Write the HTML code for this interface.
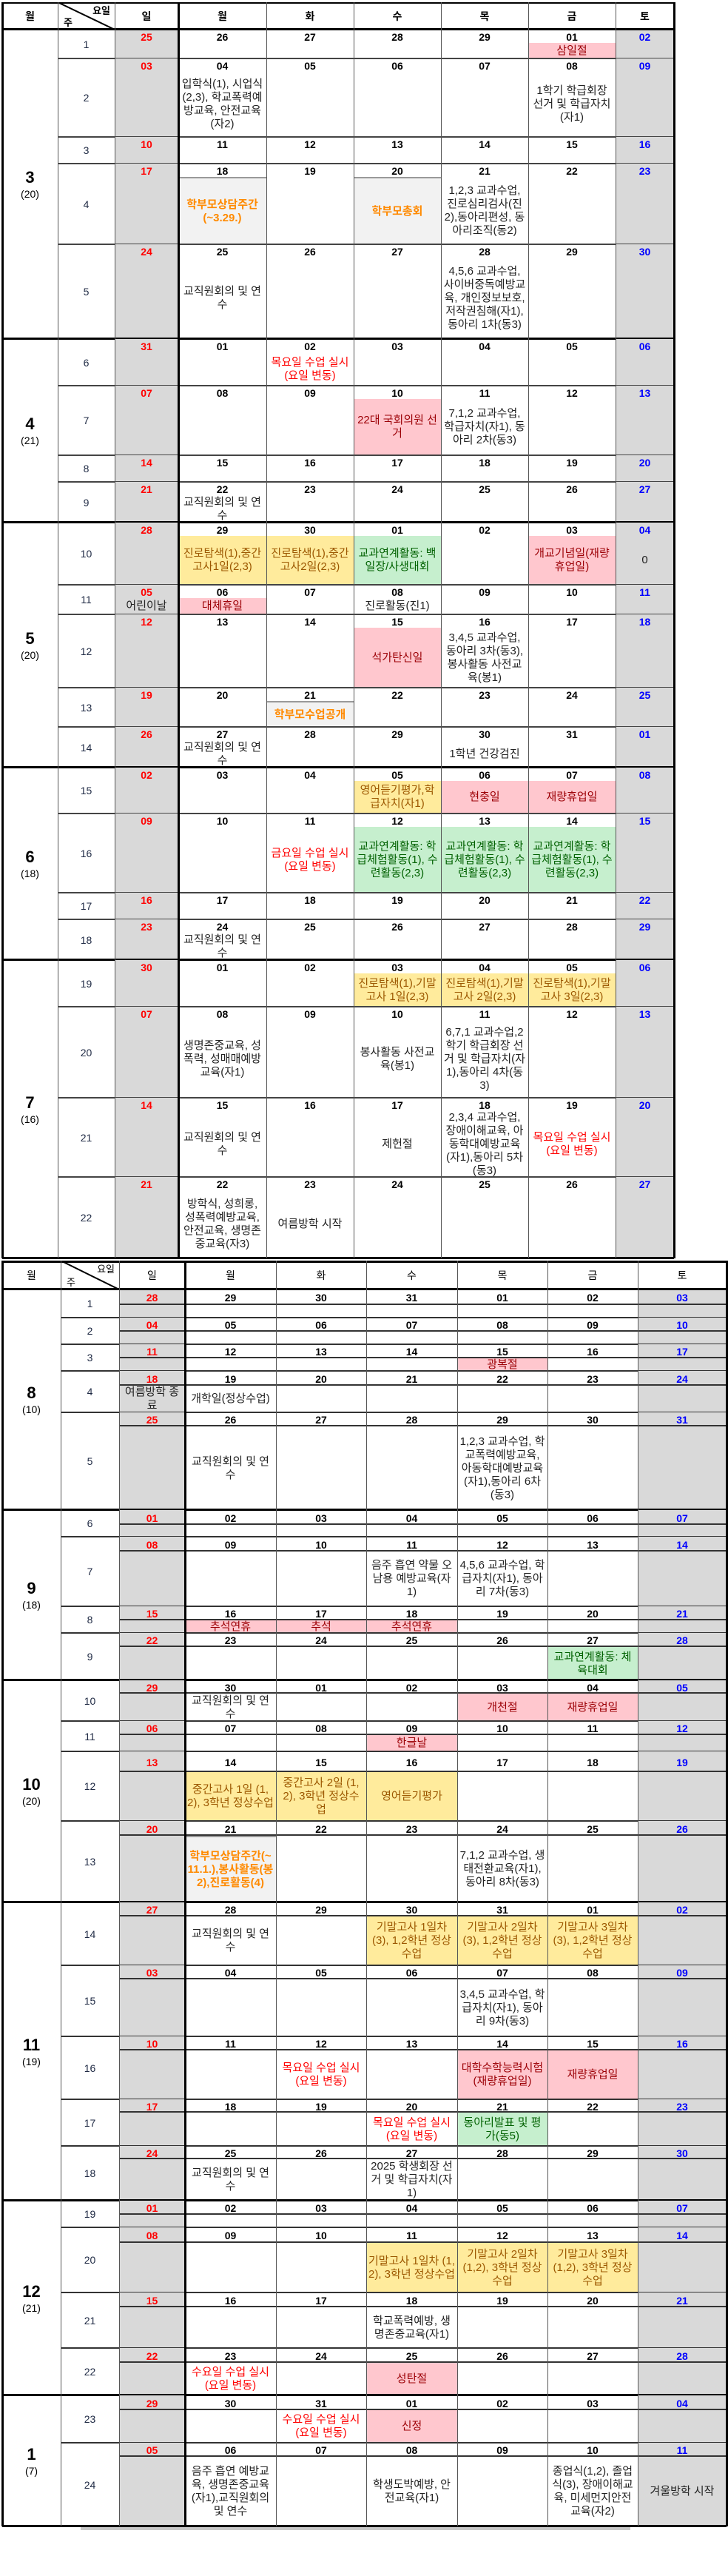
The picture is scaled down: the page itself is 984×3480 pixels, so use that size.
<!DOCTYPE html>
<html><head><meta charset="utf-8">
<style>
html,body{margin:0;padding:0;background:#fff;}
body{width:984px;height:3480px;position:relative;overflow:hidden;font-family:"Liberation Sans","Noto Sans CJK KR","NanumGothic",sans-serif;}
.a{position:absolute;box-sizing:border-box;}
.c{display:flex;align-items:center;justify-content:center;text-align:center;}
.d{font-weight:bold;font-size:14px;color:#000;}
.ev{font-size:15px;line-height:18px;word-break:break-all;padding:0 3px;color:#222;}
</style></head>
<body>
<div id="root"></div>
<script>
// ---------- data ----------
const t1Cols = [3,78,155,241,360,478,596,714,832,911];
const t2Cols = [3,82,161,250,373,495,618,740,862,982];
// table 1 rows: [week, top, bottom, dates, events]
const t1Weeks = [
 [1,40,79,['25','26','27','28','29','01','02'],{5:['삼일절','p']}],
 [2,79,185,['03','04','05','06','07','08','09'],{1:['입학식(1), 시업식(2,3), 학교폭력예방교육, 안전교육(자2)',''],5:['1학기 학급회장 선거 및 학급자치(자1)','']}],
 [3,185,221,['10','11','12','13','14','15','16'],{}],
 [4,221,330,['17','18','19','20','21','22','23'],{1:['학부모상담주간<br>(~3.29.)','o'],3:['학부모총회','o'],4:['1,2,3 교과수업, 진로심리검사(진2),동아리편성, 동아리조직(동2)','']}],
 [5,330,458,['24','25','26','27','28','29','30'],{1:['교직원회의 및 연수',''],4:['4,5,6 교과수업, 사이버중독예방교육, 개인정보보호, 저작권침해(자1),동아리 1차(동3)','']}],
 [6,458,521,['31','01','02','03','04','05','06'],{2:['목요일 수업 실시(요일 변동)','r']}],
 [7,521,615,['07','08','09','10','11','12','13'],{3:['22대 국회의원 선거','p'],4:['7,1,2 교과수업, 학급자치(자1), 동아리 2차(동3)','']}],
 [8,615,651,['14','15','16','17','18','19','20'],{}],
 [9,651,706,['21','22','23','24','25','26','27'],{1:['교직원회의 및 연수','']}],
 [10,706,790,['28','29','30','01','02','03','04'],{1:['진로탐색(1),중간고사1일(2,3)','y'],2:['진로탐색(1),중간고사2일(2,3)','y'],3:['교과연계활동: 백일장/사생대회','g'],5:['개교기념일(재량휴업일)','p'],6:['0','']}],
 [11,790,830,['05','06','07','08','09','10','11'],{0:['어린이날',''],1:['대체휴일','p'],3:['진로활동(진1)','']}],
 [12,830,929,['12','13','14','15','16','17','18'],{3:['석가탄신일','p'],4:['3,4,5 교과수업, 동아리 3차(동3), 봉사활동 사전교육(봉1)','']}],
 [13,929,982,['19','20','21','22','23','24','25'],{2:['학부모수업공개','o']}],
 [14,982,1037,['26','27','28','29','30','31','01'],{1:['교직원회의 및 연수',''],4:['1학년 건강검진','']}],
 [15,1037,1099,['02','03','04','05','06','07','08'],{3:['영어듣기평가,학급자치(자1)','y'],4:['현충일','p'],5:['재량휴업일','p']}],
 [16,1099,1206,['09','10','11','12','13','14','15'],{2:['금요일 수업 실시(요일 변동)','r'],3:['교과연계활동: 학급체험활동(1), 수련활동(2,3)','g'],4:['교과연계활동: 학급체험활동(1), 수련활동(2,3)','g'],5:['교과연계활동: 학급체험활동(1), 수련활동(2,3)','g']}],
 [17,1206,1242,['16','17','18','19','20','21','22'],{}],
 [18,1242,1297,['23','24','25','26','27','28','29'],{1:['교직원회의 및 연수','']}],
 [19,1297,1360,['30','01','02','03','04','05','06'],{3:['진로탐색(1),기말고사 1일(2,3)','y'],4:['진로탐색(1),기말고사 2일(2,3)','y'],5:['진로탐색(1),기말고사 3일(2,3)','y']}],
 [20,1360,1483,['07','08','09','10','11','12','13'],{1:['생명존중교육, 성폭력, 성매매예방교육(자1)',''],3:['봉사활동 사전교육(봉1)',''],4:['6,7,1 교과수업,2학기 학급회장 선거 및 학급자치(자1),동아리 4차(동3)','']}],
 [21,1483,1590,['14','15','16','17','18','19','20'],{1:['교직원회의 및 연수',''],3:['제헌절',''],4:['2,3,4 교과수업, 장애이해교육, 아동학대예방교육(자1),동아리 5차(동3)',''],5:['목요일 수업 실시(요일 변동)','r']}],
 [22,1590,1700,['21','22','23','24','25','26','27'],{1:['방학식, 성희롱, 성폭력예방교육, 안전교육, 생명존중교육(자3)',''],2:['여름방학 시작','']}]
];
const t1Months = [['3','(20)',1,5],['4','(21)',6,9],['5','(20)',10,14],['6','(18)',15,18],['7','(16)',19,22]];
// table 2 rows: [week, top, dateLine, bottom, dates, events]
const t2Weeks = [
 [1,1742,1762,1780,['28','29','30','31','01','02','03'],{}],
 [2,1780,1798,1816,['04','05','06','07','08','09','10'],{}],
 [3,1816,1834,1852,['11','12','13','14','15','16','17'],{4:['광복절','p']}],
 [4,1852,1871,1908,['18','19','20','21','22','23','24'],{0:['여름방학 종료',''],1:['개학일(정상수업)','']}],
 [5,1908,1926,2040,['25','26','27','28','29','30','31'],{1:['교직원회의 및 연수',''],4:['1,2,3 교과수업, 학교폭력예방교육, 아동학대예방교육(자1),동아리 6차(동3)','']}],
 [6,2040,2059,2076,['01','02','03','04','05','06','07'],{}],
 [7,2076,2095,2170,['08','09','10','11','12','13','14'],{3:['음주 흡연 약물 오남용 예방교육(자1)',''],4:['4,5,6 교과수업, 학급자치(자1), 동아리 7차(동3)','']}],
 [8,2170,2188,2206,['15','16','17','18','19','20','21'],{1:['추석연휴','p'],2:['추석','p'],3:['추석연휴','p']}],
 [9,2206,2224,2270,['22','23','24','25','26','27','28'],{5:['교과연계활동: 체육대회','g']}],
 [10,2270,2287,2325,['29','30','01','02','03','04','05'],{1:['교직원회의 및 연수',''],4:['개천절','p'],5:['재량휴업일','p']}],
 [11,2325,2343,2366,['06','07','08','09','10','11','12'],{3:['한글날','p']}],
 [12,2366,2393,2460,['13','14','15','16','17','18','19'],{1:['중간고사 1일 (1,2), 3학년 정상수업','y'],2:['중간고사 2일 (1,2), 3학년 정상수업','y'],3:['영어듣기평가','y']}],
 [13,2460,2479,2570,['20','21','22','23','24','25','26'],{1:['학부모상담주간(~11.1.),봉사활동(봉2),진로활동(4)','o'],4:['7,1,2 교과수업, 생태전환교육(자1),동아리 8차(동3)','']}],
 [14,2570,2588,2655,['27','28','29','30','31','01','02'],{1:['교직원회의 및 연수',''],3:['기말고사 1일차(3), 1,2학년 정상수업','y'],4:['기말고사 2일차(3), 1,2학년 정상수업','y'],5:['기말고사 3일차(3), 1,2학년 정상수업','y']}],
 [15,2655,2673,2751,['03','04','05','06','07','08','09'],{4:['3,4,5 교과수업, 학급자치(자1), 동아리 9차(동3)','']}],
 [16,2751,2769,2836,['10','11','12','13','14','15','16'],{2:['목요일 수업 실시(요일 변동)','r'],4:['대학수학능력시험(재량휴업일)','p'],5:['재량휴업일','p']}],
 [17,2836,2853,2899,['17','18','19','20','21','22','23'],{3:['목요일 수업 실시(요일 변동)','r'],4:['동아리발표 및 평가(동5)','g']}],
 [18,2899,2916,2973,['24','25','26','27','28','29','30'],{1:['교직원회의 및 연수',''],3:['2025 학생회장 선거 및 학급자치(자1)','']}],
 [19,2973,2991,3009,['01','02','03','04','05','06','07'],{}],
 [20,3009,3029,3097,['08','09','10','11','12','13','14'],{3:['기말고사 1일차 (1,2), 3학년 정상수업','y'],4:['기말고사 2일차 (1,2), 3학년 정상수업','y'],5:['기말고사 3일차 (1,2), 3학년 정상수업','y']}],
 [21,3097,3116,3172,['15','16','17','18','19','20','21'],{3:['학교폭력예방, 생명존중교육(자1)','']}],
 [22,3172,3191,3236,['22','23','24','25','26','27','28'],{1:['수요일 수업 실시(요일 변동)','r'],3:['성탄절','p']}],
 [23,3236,3255,3300,['29','30','31','01','02','03','04'],{2:['수요일 수업 실시(요일 변동)','r'],3:['신정','p']}],
 [24,3300,3318,3413,['05','06','07','08','09','10','11'],{1:['음주 흡연 예방교육, 생명존중교육(자1),교직원회의 및 연수',''],3:['학생도박예방, 안전교육(자1)',''],5:['종업식(1,2), 졸업식(3), 장애이해교육, 미세먼지안전교육(자2)',''],6:['겨울방학 시작','']}]
];
const t2Months = [['8','(10)',1,5],['9','(18)',6,9],['10','(20)',10,13],['11','(19)',14,18],['12','(21)',19,22],['1','(7)',23,24]];
const styles = {p:['#ffc7ce','#9c0006'],y:['#ffeb9c','#9c5700'],g:['#c6efce','#006100'],o:['#f2f2f2','#ff8a00'],r:['transparent','#ff0000'],'':['transparent','#222']};

// ---------- render ----------
const root = document.getElementById('root');
function box(x,y,w,h,css){
  const d=document.createElement('div');
  d.className='a';
  d.style.cssText=`left:${x}px;top:${y}px;width:${w}px;height:${h}px;`+(css||'');
  root.appendChild(d);
  return d;
}
function line(x,y,w,h,color){
  const d=box(x,y,w,h,'background:'+color+';');
  
  
  return d;
}
function header(cols,top,bot,bold){
  const names=['월','','일','월','화','수','목','금','토'];
  for(let i=0;i<9;i++){
    if(i===1){
      const h=box(cols[1],top,cols[2]-cols[1],bot-top,'font-size:13px;'+(bold?'font-weight:bold;':''));
      
      
      h.innerHTML=`<svg width="${cols[2]-cols[1]}" height="${bot-top}" style="position:absolute;left:0;top:0"><line x1="0" y1="0" x2="${cols[2]-cols[1]}" y2="${bot-top}" stroke="#000" stroke-width="2"/></svg><span style="position:absolute;right:6px;top:1px">요일</span><span style="position:absolute;left:8px;bottom:1px">주</span>`;
      continue;
    }
    const h=box(cols[i],top,cols[i+1]-cols[i],bot-top,'font-size:14px;'+(bold?'font-weight:bold;':''));
    h.classList.add('c');
    h.textContent=names[i];
    
    
  }
}
function eventBox(cols,i,y0,y1,ev){
  const st=styles[ev[1]];
  const e=box(cols[i+2],y0,cols[i+3]-cols[i+2],y1-y0,`background:${st[0]};color:${st[1]};`+(ev[1]==='o'?'font-weight:bold;border-top:2px solid #999;':''));
  e.classList.add('c','ev');
  e.innerHTML=ev[0];
  
  
}
function dateText(cols,i,y,h,txt){
  const d=box(cols[i+2],y,cols[i+3]-cols[i+2],h,'color:'+(i===0?'#ff0000':i===6?'#0000ff':'#000')+';');
  d.classList.add('c','d');
  d.textContent=txt;
  
  
}
function monthLabel(cols,y0,y1,m,n){
  const d=box(cols[0],y0,cols[1]-cols[0],y1-y0,'flex-direction:column;');
  d.classList.add('c');
  d.innerHTML=`<div style="font-size:22px;font-weight:bold;line-height:26px">${m}</div><div style="font-size:14px;line-height:18px">${n}</div>`;
  
  
}
function weekLabel(cols,y0,y1,w){
  const d=box(cols[1],y0,cols[2]-cols[1],y1-y0,'font-size:14px;color:#1f2a44;');
  d.classList.add('c');
  d.textContent=w;
  
  
}

// Table 1
(function(){
  const c=t1Cols, top=3, head=40, end=1700;
  header(c,top,head,true);
  const lastOfMonth=new Set(t1Months.map(m=>m[3]));
  t1Weeks.forEach(w=>{
    const [wk,y0,y1,dates,evs]=w;
    box(c[2],y0,c[3]-c[2],y1-y0,'background:#d9d9d9;');
    box(c[8],y0,c[9]-c[8],y1-y0,'background:#d9d9d9;');
    weekLabel(c,y0,y1,wk);
    for(let i=0;i<7;i++){
      if(evs[i]) eventBox(c,i,y0+18,y1,evs[i]);
      dateText(c,i,y0+1,18,dates[i]);
    }
    if(lastOfMonth.has(wk)) line(c[0],y1-2,c[9]-c[0],3,'#000');
    else line(c[1],y1-1,c[9]-c[1],2,'#444');
  });
  t1Months.forEach(m=>{
    const y0=t1Weeks[m[2]-1][1], y1=t1Weeks[m[3]-1][2];
    monthLabel(c,y0,y1,m[0],m[1]);
  });
  line(c[0],top,c[9]-c[0],2,'#000');
  line(c[0],head-2,c[9]-c[0],3,'#000');
  for(let i=0;i<10;i++){
    const thick=(i===0||i===9||i===3);
    line(c[i]-(thick?1:0),top,thick?3:1,end-top,thick?'#000':'#555');
  }
})();

// Table 2
(function(){
  const c=t2Cols, top=1703, head=1742, end=3413;
  header(c,top,head,false);
  const lastOfMonth=new Set(t2Months.map(m=>m[3]));
  t2Weeks.forEach(w=>{
    const [wk,y0,dl,y1,dates,evs]=w;
    box(c[2],y0,c[3]-c[2],y1-y0,'background:#d9d9d9;');
    box(c[8],y0,c[9]-c[8],y1-y0,'background:#d9d9d9;');
    weekLabel(c,y0,y1,wk);
    for(let i=0;i<7;i++){
      dateText(c,i,y0+1,dl-y0,dates[i]);
      if(evs[i]) eventBox(c,i,dl+1,y1,evs[i]);
    }
    line(c[2],dl-1,c[9]-c[2],2,'#333');
    if(lastOfMonth.has(wk)) line(c[0],y1-2,c[9]-c[0],3,'#000');
    else line(c[1],y1-1,c[9]-c[1],2,'#333');
  });
  t2Months.forEach(m=>{
    const y0=t2Weeks[m[2]-1][1], y1=t2Weeks[m[3]-1][3];
    monthLabel(c,y0,y1,m[0],m[1]);
  });
  line(c[0],top,c[9]-c[0],3,'#000');
  line(c[0],head-2,c[9]-c[0],3,'#000');
  for(let i=0;i<10;i++){
    const thick=(i===0||i===9||i===3);
    line(c[i]-(thick?1:0),top,thick?3:1,end-top,thick?'#000':'#555');
  }
  const sb=box(109,3414,743,4,'background:#c8c8c8;');
  
  
})();
</script>
</body></html>
